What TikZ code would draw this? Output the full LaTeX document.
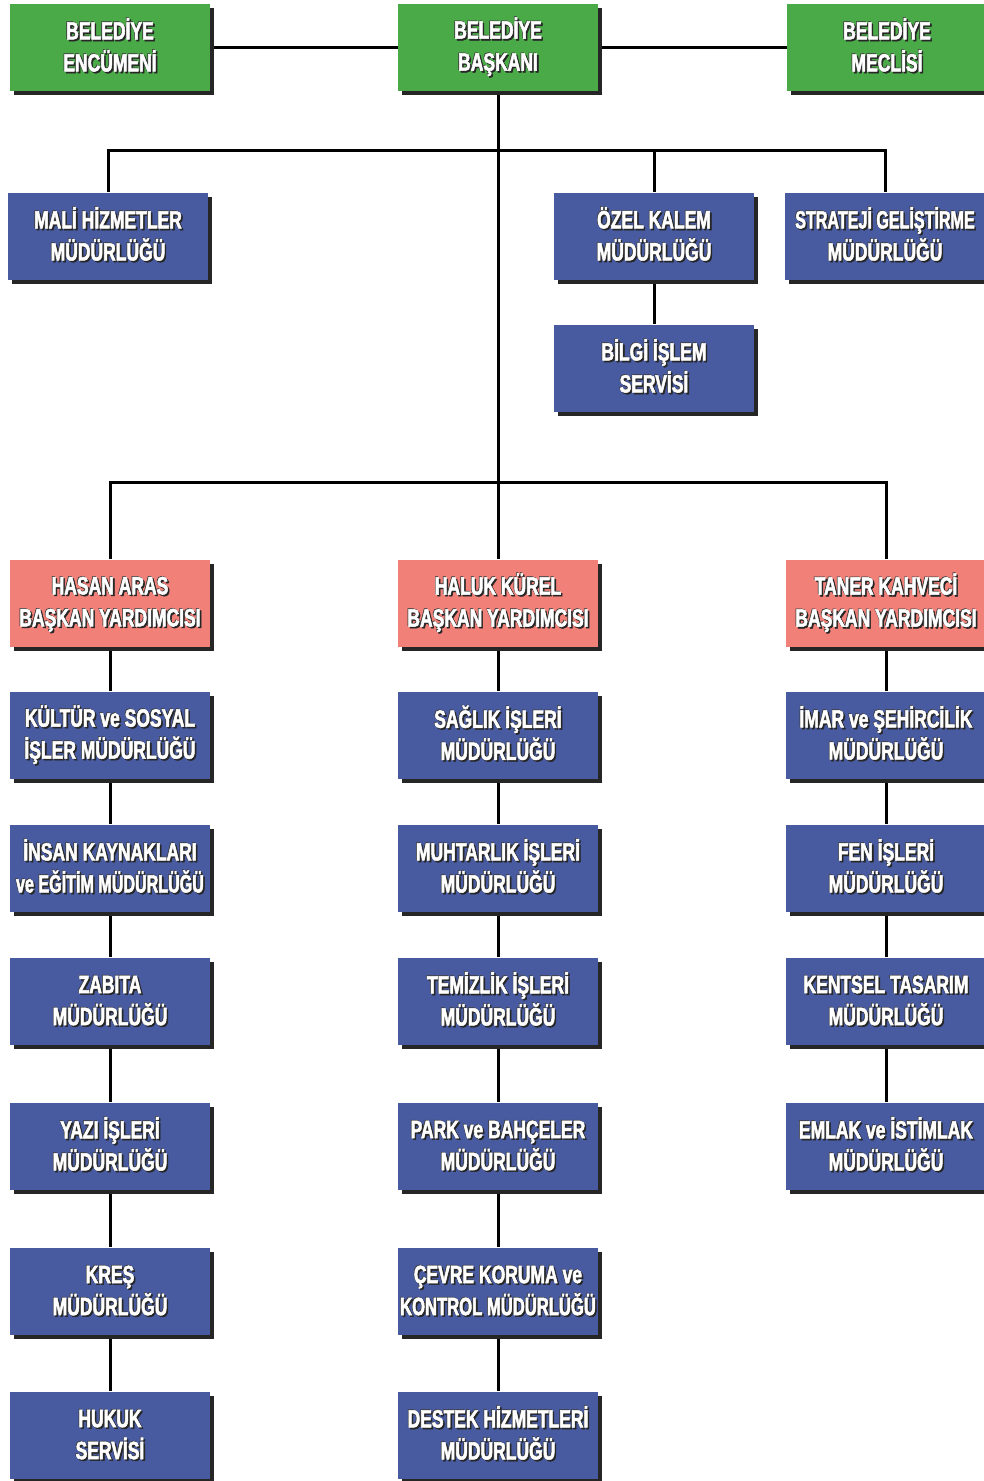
\documentclass[tikz,border=0pt]{standalone}
\usepackage{fontspec}
\newfontfamily\orgfont[FakeStretch=0.7,BoldFeatures={FakeBold=2}]{Liberation Sans}
\usetikzlibrary{shadows,backgrounds}

\definecolor{kurulyesil}{RGB}{74,170,72}
\definecolor{mudurmavi}{RGB}{72,91,160}
\definecolor{yardimci}{RGB}{240,128,120}

% white letters with a dark rim
\newcommand{\sh}[1]{%
  \vphantom{ŞİÇ}%
  \makebox[0pt][l]{\hspace{1.6pt}\raisebox{-1.6pt}{\color{black!85}#1}}%
  \makebox[0pt][l]{\hspace{-0.7pt}\raisebox{0.7pt}{\color{black!75}#1}}%
  {\color{white}#1}}

\begin{document}
\begin{tikzpicture}[x=1pt,y=-1pt,
    birim/.style={rectangle, minimum width=200pt, minimum height=87pt, inner sep=0pt,
      align=center, font=\orgfont\bfseries\fontsize{25}{32}\selectfont,
      drop shadow={shadow xshift=4pt, shadow yshift=-4pt, fill=black!85, opacity=1}},
    kurul/.style={birim, fill=kurulyesil},
    mudurluk/.style={birim, fill=mudurmavi},
    baskanyrd/.style={birim, fill=yardimci},
    hat/.style={line width=3pt}]

      \useasboundingbox (0,0) rectangle (984,1481);

      \node at (110,47) [kurul] (encumen) {\sh{BELEDİYE}\\\sh{ENCÜMENİ}};
      \node at (498,47) [kurul] (baskan) {\sh{BELEDİYE}\\\sh{BAŞKANI}};
      \node at (887,47) [kurul] (meclis) {\sh{BELEDİYE}\\\sh{MECLİSİ}};

      \node at (108,236) [mudurluk] (mali) {\sh{MALİ HİZMETLER}\\\sh{MÜDÜRLÜĞÜ}};
      \node at (654,236) [mudurluk] (ozel) {\sh{ÖZEL KALEM}\\\sh{MÜDÜRLÜĞÜ}};
      \node at (885,236) [mudurluk] (strateji) {\sh{\scalebox{0.92}[1]{STRATEJİ GELİŞTİRME}}\\\sh{MÜDÜRLÜĞÜ}};
      \node at (654,368) [mudurluk] (bilgi) {\sh{BİLGİ İŞLEM}\\\sh{SERVİSİ}};

      \node at (110,603) [baskanyrd] (hasan) {\sh{HASAN ARAS}\\\sh{BAŞKAN YARDIMCISI}};
      \node at (498,603) [baskanyrd] (haluk) {\sh{HALUK KÜREL}\\\sh{BAŞKAN YARDIMCISI}};
      \node at (886,603) [baskanyrd] (taner) {\sh{TANER KAHVECİ}\\\sh{BAŞKAN YARDIMCISI}};

      % sol sutun
      \node at (110,735) [mudurluk] (kultur) {\sh{KÜLTÜR ve SOSYAL}\\\sh{İŞLER MÜDÜRLÜĞÜ}};
      \node at (110,868) [mudurluk] (insan) {\sh{İNSAN KAYNAKLARI}\\\sh{\scalebox{0.92}[1]{ve EĞİTİM MÜDÜRLÜĞÜ}}};
      \node at (110,1001) [mudurluk] (zabita) {\sh{ZABITA}\\\sh{MÜDÜRLÜĞÜ}};
      \node at (110,1146) [mudurluk] (yazi) {\sh{YAZI İŞLERİ}\\\sh{MÜDÜRLÜĞÜ}};
      \node at (110,1291) [mudurluk] (kres) {\sh{KREŞ}\\\sh{MÜDÜRLÜĞÜ}};
      \node at (110,1435) [mudurluk] (hukuk) {\sh{HUKUK}\\\sh{SERVİSİ}};

      % orta sutun
      \node at (498,735) [mudurluk] (saglik) {\sh{SAĞLIK İŞLERİ}\\\sh{MÜDÜRLÜĞÜ}};
      \node at (498,868) [mudurluk] (muhtarlik) {\sh{MUHTARLIK İŞLERİ}\\\sh{MÜDÜRLÜĞÜ}};
      \node at (498,1001) [mudurluk] (temizlik) {\sh{TEMİZLİK İŞLERİ}\\\sh{MÜDÜRLÜĞÜ}};
      \node at (498,1146) [mudurluk] (park) {\sh{PARK ve BAHÇELER}\\\sh{MÜDÜRLÜĞÜ}};
      \node at (498,1291) [mudurluk] (cevre) {\sh{ÇEVRE KORUMA ve}\\\sh{\scalebox{0.95}[1]{KONTROL MÜDÜRLÜĞÜ}}};
      \node at (498,1435) [mudurluk] (destek) {\sh{DESTEK HİZMETLERİ}\\\sh{MÜDÜRLÜĞÜ}};

      % sag sutun
      \node at (886,735) [mudurluk] (imar) {\sh{İMAR ve ŞEHİRCİLİK}\\\sh{MÜDÜRLÜĞÜ}};
      \node at (886,868) [mudurluk] (fen) {\sh{FEN İŞLERİ}\\\sh{MÜDÜRLÜĞÜ}};
      \node at (886,1001) [mudurluk] (kentsel) {\sh{KENTSEL TASARIM}\\\sh{MÜDÜRLÜĞÜ}};
      \node at (886,1146) [mudurluk] (emlak) {\sh{EMLAK ve İSTİMLAK}\\\sh{MÜDÜRLÜĞÜ}};

      \begin{scope}[on background layer]
      \draw[hat] (encumen) -- (baskan) -- (meclis);
      \draw[hat] (baskan) -- (haluk) -- (saglik) -- (muhtarlik) -- (temizlik) -- (park) -- (cevre) -- (destek);
      \draw[hat] (mali) -- (mali |- 0,150) -- (strateji |- 0,150) -- (strateji);
      \draw[hat] (ozel |- 0,150) -- (ozel) -- (bilgi);
      \draw[hat] (hasan) -- (hasan |- 0,482) -- (taner |- 0,482) -- (taner);
      \draw[hat] (hasan) -- (kultur) -- (insan) -- (zabita) -- (yazi) -- (kres) -- (hukuk);
      \draw[hat] (taner) -- (imar) -- (fen) -- (kentsel) -- (emlak);
      \end{scope}
    \end{tikzpicture}
\end{document}
